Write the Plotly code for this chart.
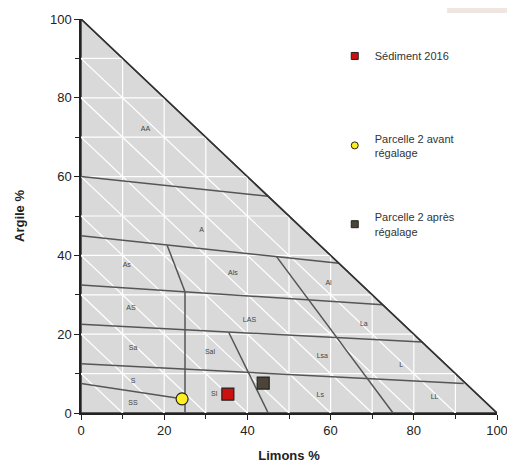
import plotly.graph_objects as go

# Texture classes (GEPPA) in Limons % (x) / Argile % (y)
boundary_x0 = [0, 0, 0, 0, 0, 0, 25, 25, 45, 75]
boundary_y0 = [60, 45, 32.5, 22.5, 12.5, 7.5, 0, 30.8, 0, 0]
boundary_x1 = [45, 62, 72.5, 82, 92, 25, 25, 20.7, 35.5, 47]
boundary_y1 = [55, 38, 27.5, 18, 7.5, 3.5, 30.8, 42.6, 20.5, 39.7]

class_labels = ["AA", "A", "As", "Als", "Al", "AS", "LAS", "La", "Sa", "Sal",
                "Lsa", "L", "S", "SS", "Sl", "Ls", "LL"]
label_x = [15.5, 29, 11, 36.5, 59.5, 12, 40.5, 68, 12.5, 31, 58, 77, 12.5, 12.5, 32, 57.5, 85]
label_y = [72, 46.5, 37.5, 35.5, 33, 26.5, 23.5, 22.5, 16.5, 15.5, 14.5, 12, 8, 2.5, 4.8, 4.6, 4]

series_names = ["Sédiment 2016", "Parcelle 2 avant<br>régalage", "Parcelle 2 après<br>régalage"]
limons = [35.3, 24.3, 43.8]
argile = [4.8, 3.6, 7.6]

grid_steps = [10, 20, 30, 40, 50, 60, 70, 80, 90]

fig = go.Figure()

# Triangle background
fig.add_trace(go.Scatter(x=[0, 100, 0, 0], y=[0, 0, 100, 0], mode="lines", fill="toself",
                         fillcolor="#d9d9d9", line=dict(color="#333333", width=1.5),
                         showlegend=False, hoverinfo="skip"))

# White grid inside triangle
gx, gy = [], []
for k in grid_steps:
    gx += [k, k, None]; gy += [0, 100 - k, None]
    gx += [0, 100 - k, None]; gy += [k, k, None]
    gx += [0, k, None]; gy += [k, 0, None]
fig.add_trace(go.Scatter(x=gx, y=gy, mode="lines", line=dict(color="white", width=1.2),
                         showlegend=False, hoverinfo="skip"))

# Class boundaries
bx, by = [], []
for a, b, c, d in zip(boundary_x0, boundary_y0, boundary_x1, boundary_y1):
    bx += [a, c, None]; by += [b, d, None]
fig.add_trace(go.Scatter(x=bx, y=by, mode="lines", line=dict(color="#555555", width=1.5),
                         showlegend=False, hoverinfo="skip"))
# Hypotenuse on top
fig.add_trace(go.Scatter(x=[0, 100], y=[100, 0], mode="lines", line=dict(color="#333333", width=1.5),
                         showlegend=False, hoverinfo="skip"))

fig.add_trace(go.Scatter(x=label_x, y=label_y, mode="text", text=class_labels,
                         textfont=dict(size=7, color="#444444", family="Arial"),
                         showlegend=False, hoverinfo="skip"))

symbols = ["square", "circle", "square"]
colors = ["#cc1010", "#ffee22", "#4a4538"]
legend_ids = ["legend", "legend2", "legend3"]
for i in range(3):
    fig.add_trace(go.Scatter(x=[limons[i]], y=[argile[i]], mode="markers", name=series_names[i],
                             showlegend=False,
                             marker=dict(symbol=symbols[i], size=12, color=colors[i],
                                         line=dict(color="#222222", width=1.2))))
    # legend entry (smaller symbol)
    fig.add_trace(go.Scatter(x=[None], y=[None], mode="markers", name=series_names[i],
                             legend=legend_ids[i],
                             marker=dict(symbol=symbols[i], size=7, color=colors[i],
                                         line=dict(color="#222222", width=1))))

leg_common = dict(xanchor="left", yanchor="top", bgcolor="rgba(0,0,0,0)",
                  itemwidth=30, font=dict(size=11, color="#333333"))
fig.update_layout(
    width=507, height=459,
    margin=dict(l=73, r=18, t=11, b=54, autoexpand=False),
    plot_bgcolor="white", paper_bgcolor="white",
    font=dict(family="Arial", size=12, color="#222222"),
    legend=dict(x=0.61, y=0.943, **leg_common),
    legend2=dict(x=0.61, y=0.732, **leg_common),
    legend3=dict(x=0.61, y=0.532, **leg_common),
    shapes=[dict(type="rect", xref="paper", yref="paper", x0=0.88, x1=1.05, y0=1.015, y1=1.06,
                 fillcolor="#efe6e2", line=dict(width=0), layer="below")],
)
fig.update_xaxes(range=[0, 100], tickvals=[0, 20, 40, 60, 80, 100], showgrid=False, zeroline=False,
                 automargin=False,
                 showline=True, linecolor="#222222", linewidth=1.5, ticks="outside", ticklen=5,
                 tickcolor="#222222", minor=dict(tickvals=[10, 30, 50, 70, 90], ticks="outside", ticklen=4,
                                                 tickcolor="#222222"),
                 tickfont=dict(size=13), title=dict(text="<b>Limons %</b>", font=dict(size=13), standoff=14))
fig.update_yaxes(range=[0, 100], tickvals=[0, 20, 40, 60, 80, 100], showgrid=False, zeroline=False,
                 automargin=False,
                 showline=True, linecolor="#222222", linewidth=1.5, ticks="outside", ticklen=5,
                 tickcolor="#222222", minor=dict(tickvals=[10, 30, 50, 70, 90], ticks="outside", ticklen=4,
                                                 tickcolor="#222222"),
                 tickfont=dict(size=13), title=dict(text="<b>Argile %</b>", font=dict(size=13), standoff=22))

fig.write_html("out.html")
